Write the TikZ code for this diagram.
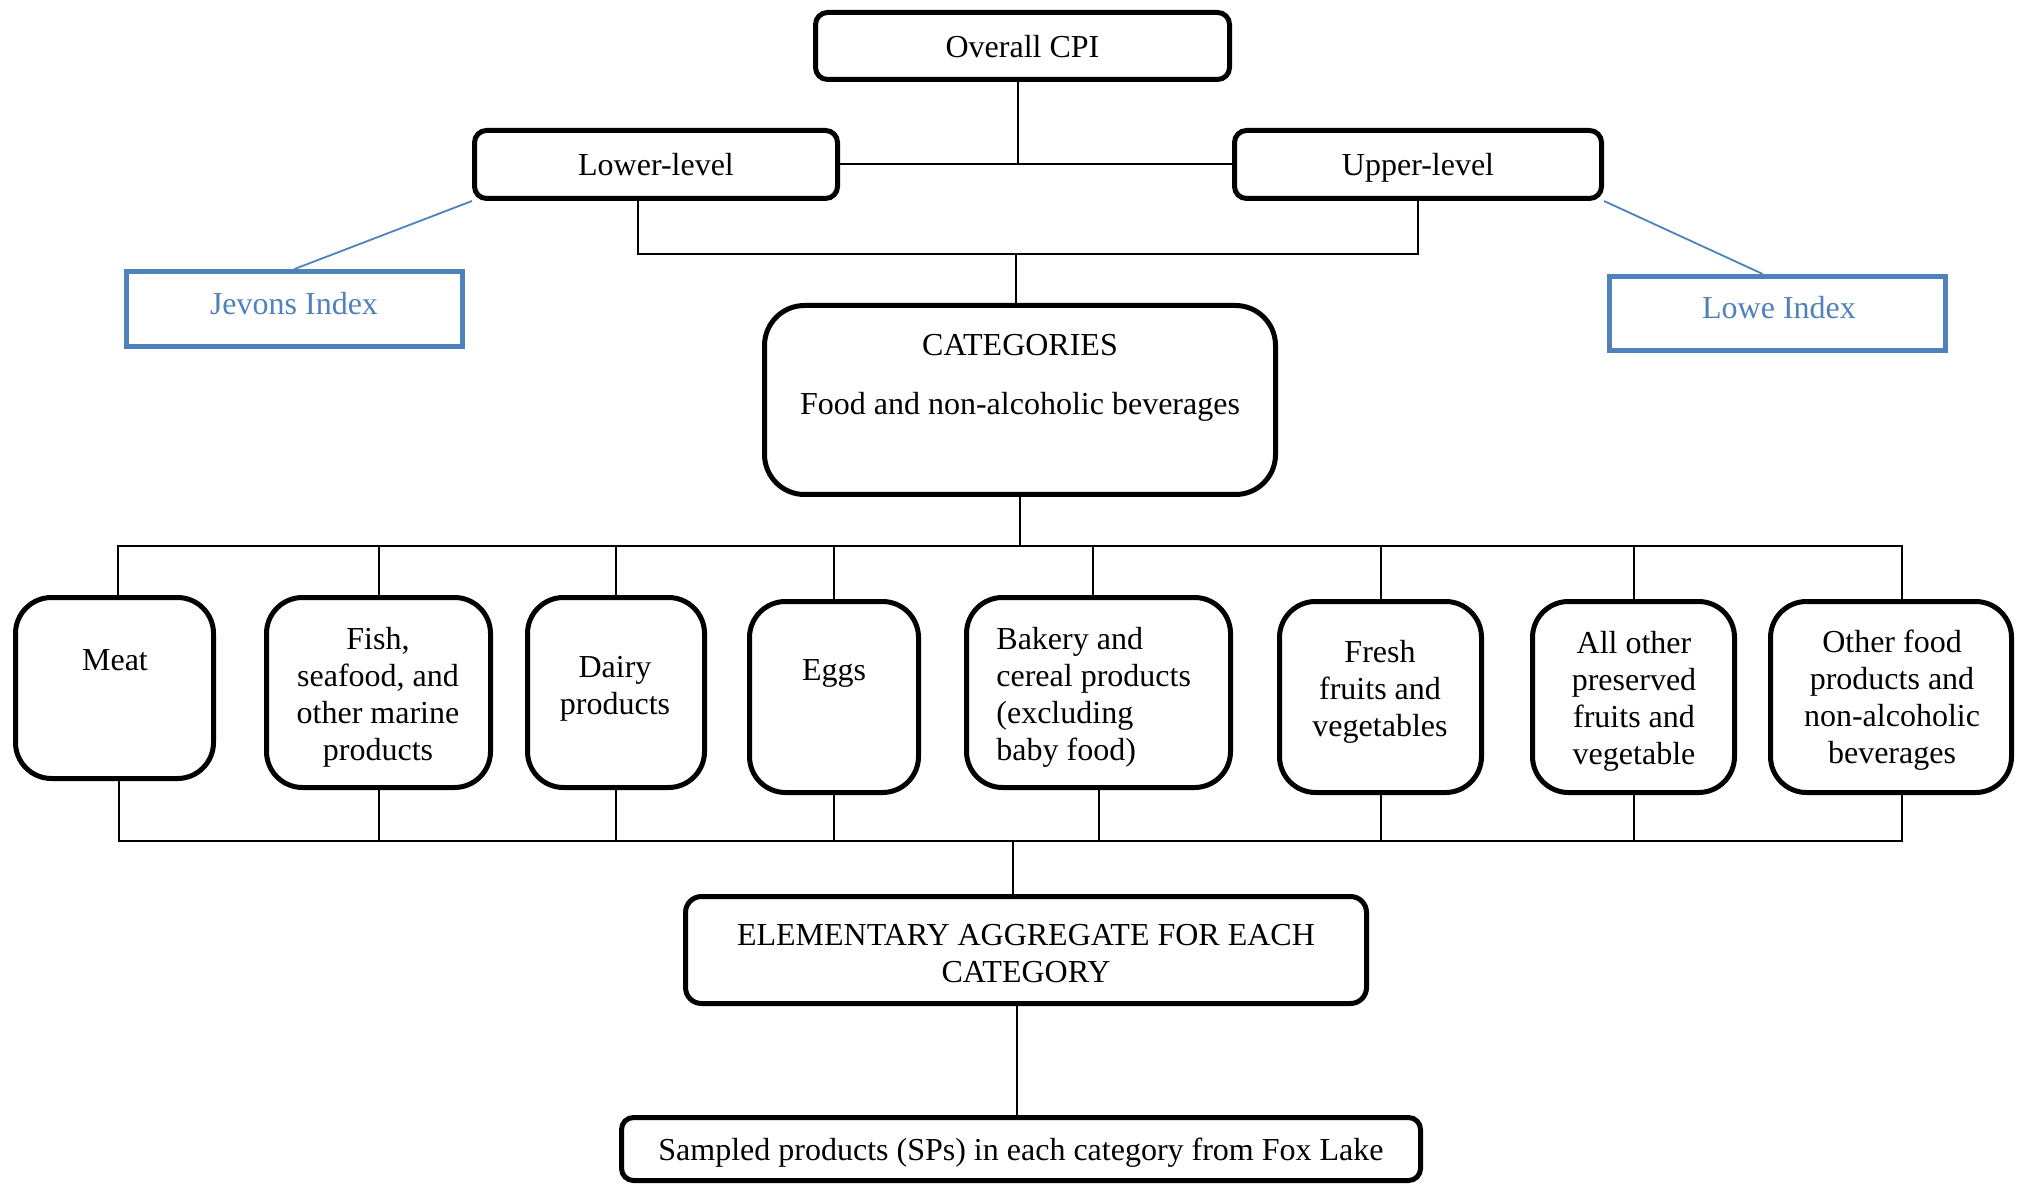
\documentclass[tikz,border=0pt]{standalone}
\usepackage{fontspec}
\setmainfont{Liberation Serif}
\usetikzlibrary{calc}
\definecolor{lblue}{RGB}{79,129,189}
\begin{document}
\begin{tikzpicture}[x=0.5pt,y=-0.5pt,
  box/.style={draw,line width=2.5pt,rounded corners=6pt,inner sep=0pt},
  catbox/.style={box,rounded corners=18pt},
  idx/.style={draw=lblue,line width=2.6pt,inner sep=0pt},
  txt/.style={font=\fontsize{16}{18.5}\selectfont,align=center,inner sep=0pt,text depth=0pt},
  conn/.style={line width=1pt},
  bconn/.style={draw=lblue,line width=0.9pt}]
\useasboundingbox (0,0) rectangle (2021,1186);
% top levels
\node[box,txt,minimum width=207pt,minimum height=33.5pt] (cpi) at (1022.5,46) {Overall CPI};
\node[box,txt,minimum width=181.5pt,minimum height=34pt] (lower) at (656,164.5) {Lower-level};
\node[box,txt,minimum width=183.5pt,minimum height=34pt] (upper) at (1418,164.5) {Upper-level};
\node[idx,minimum width=168pt,minimum height=37.4pt] (jevons) at (294.5,309) {};
\node[txt,text=lblue] (tjevons) at (294,303) {Jevons Index};
\node[idx,minimum width=168pt,minimum height=37pt] (lowe) at (1777.5,313.5) {};
\node[txt,text=lblue] (tlowe) at (1779,307) {Lowe Index};
\node[box,rounded corners=20pt,minimum width=255.5pt,minimum height=94.5pt] (cat) at (1020,400) {};
\node[txt] (tcat1) at (1020,345) {CATEGORIES};
\node[txt] (tcat2) at (1020,403) {Food and non-alcoholic beverages};
% categories
\node[catbox,minimum width=99pt,minimum height=90.5pt] (meat) at (114.5,688) {};
\node[txt] (tmeat) at (115,660) {Meat};
\node[catbox,minimum width=112pt,minimum height=95pt] (fish) at (378.5,692.5) {};
\node[txt] (tfish) at (378,694) {Fish,\\seafood, and\\other marine\\products};
\node[catbox,minimum width=88.5pt,minimum height=95pt] (dairy) at (616,692.5) {};
\node[txt] (tdairy) at (615,685) {Dairy\\products};
\node[catbox,minimum width=84.5pt,minimum height=95.5pt] (eggs) at (834,697) {};
\node[txt] (teggs) at (834,670) {Eggs};
\node[catbox,minimum width=132pt,minimum height=95pt] (bakery) at (1098.5,692.5) {};
\node[txt,align=left,anchor=west] (tbakery) at (996,694) {Bakery and\\cereal products\\(excluding\\baby food)};
\node[catbox,minimum width=101pt,minimum height=95.5pt] (fresh) at (1380.5,697) {};
\node[txt] (tfresh) at (1380,688) {Fresh\\fruits and\\vegetables};
\node[catbox,minimum width=101pt,minimum height=95.5pt] (allother) at (1633.5,697) {};
\node[txt] (tallother) at (1634,698) {All other\\preserved\\fruits and\\vegetable};
\node[catbox,minimum width=120.5pt,minimum height=95.5pt] (otherfood) at (1891,697) {};
\node[txt] (totherfood) at (1892,697) {Other food\\products and\\non-alcoholic\\beverages};
% bottom
\node[box,rounded corners=8pt,minimum width=340.5pt,minimum height=53.5pt] (elem) at (1026,950) {};
\node[txt] (telem) at (1026,953) {ELEMENTARY AGGREGATE FOR EACH\\CATEGORY};
\node[box,txt,minimum width=399.5pt,minimum height=31.5pt] (sampled) at (1021,1149) {Sampled products (SPs) in each category from Fox Lake};
% connectors
\coordinate (mbus) at (1016,254);
\coordinate (tbus) at (1020,546);
\coordinate (bbus) at (1013,841);
\coordinate (cpib) at ([xshift=-2.5pt]cpi.south);
\draw[conn] (cpib) -- (cpib |- lower.east);
\draw[conn] (lower.east) -- (upper.west);
\coordinate (lowb) at ([xshift=-9pt]lower.south);
\draw[conn] (lowb) |- (mbus) -| (upper.south);
\draw[conn] (mbus) -- (mbus |- cat.north);
\draw[bconn] (lower.south west) -- (jevons.north);
\coordinate (lowet) at ([xshift=-7.5pt]lowe.north);
\draw[bconn] (upper.south east) -- (lowet);
\draw[conn] (cat.south) -- (tbus);
\coordinate (meatt) at ([xshift=1.7pt]meat.north);
\coordinate (oft) at ([xshift=5.5pt]otherfood.north);
\draw[conn] (meatt) |- (tbus) -| (oft);
\foreach \nm in {fish,dairy,eggs,fresh,allother} \draw[conn] (\nm.north) -- (\nm.north |- tbus);
\coordinate (bakt) at ([xshift=-3pt]bakery.north);
\draw[conn] (bakt) -- (bakt |- tbus);
\coordinate (meatb) at ([xshift=2pt]meat.south);
\coordinate (ofb) at ([xshift=5.5pt]otherfood.south);
\draw[conn] (meatb) |- (bbus) -| (ofb);
\foreach \nm in {fish,dairy,eggs,bakery,fresh,allother} \draw[conn] (\nm.south) -- (\nm.south |- bbus);
\coordinate (elt) at ([xshift=-6.5pt]elem.north);
\draw[conn] (elt) -- (elt |- bbus);
\coordinate (elb) at ([xshift=-4.5pt]elem.south);
\draw[conn] (elb) -- (elb |- sampled.north);
\end{tikzpicture}
\end{document}
